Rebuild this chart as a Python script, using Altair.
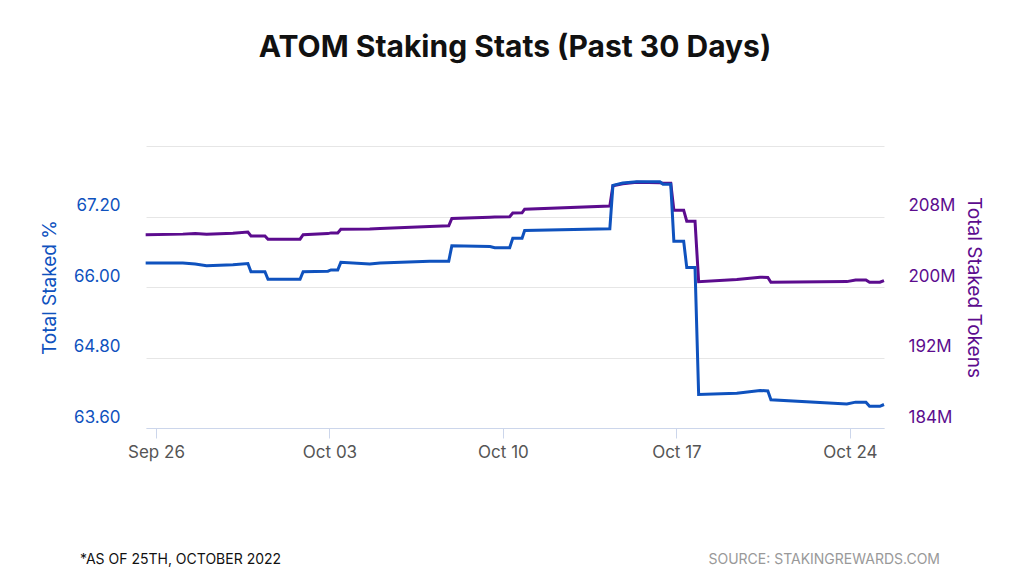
import altair as alt
import pandas as pd

# readings taken off the staking dashboard, local time stamps
times = [
    "2022-09-25T14:00", "2022-09-27T02:00", "2022-09-27T14:00", "2022-09-28T01:00",
    "2022-09-29T02:30", "2022-09-29T17:00", "2022-09-29T20:00", "2022-09-30T09:30",
    "2022-09-30T12:30", "2022-10-01T19:30", "2022-10-01T22:30", "2022-10-02T22:30",
    "2022-10-03T01:30", "2022-10-03T08:00", "2022-10-03T11:00", "2022-10-04T15:00",
    "2022-10-05T01:00", "2022-10-07T01:00", "2022-10-07T19:30", "2022-10-07T22:30",
    "2022-10-09T11:30", "2022-10-09T16:00", "2022-10-10T06:30", "2022-10-10T09:30",
    "2022-10-10T18:30", "2022-10-10T21:00", "2022-10-14T07:30", "2022-10-14T10:30",
    "2022-10-14T20:00", "2022-10-15T09:30", "2022-10-16T08:00", "2022-10-16T11:00",
    "2022-10-16T18:30", "2022-10-16T21:30", "2022-10-17T07:00", "2022-10-17T10:00",
    "2022-10-17T18:00", "2022-10-17T21:30", "2022-10-19T10:30", "2022-10-20T09:00",
    "2022-10-20T16:30", "2022-10-20T19:30", "2022-10-23T21:00", "2022-10-24T05:30",
    "2022-10-24T15:30", "2022-10-24T19:00", "2022-10-25T05:00", "2022-10-25T09:00",
]
staked_pct = [
    66.41, 66.41, 66.39, 66.36, 66.38, 66.40, 66.26, 66.26,
    66.13, 66.13, 66.26, 66.27, 66.29, 66.29, 66.42, 66.39,
    66.41, 66.44, 66.44, 66.70, 66.69, 66.67, 66.67, 66.83,
    66.83, 66.96, 66.99, 67.73, 67.77, 67.79, 67.79, 67.75,
    67.75, 66.78, 66.78, 66.33, 66.33, 64.17, 64.19, 64.24,
    64.23, 64.08, 64.01, 64.04, 64.04, 63.97, 63.97, 64.00,
]
staked_tokens_m = [
    205.94, 206.00, 206.06, 206.00, 206.11, 206.23, 205.79, 205.79,
    205.41, 205.43, 205.94, 206.06, 206.14, 206.14, 206.55, 206.57,
    206.63, 206.86, 206.94, 207.77, 207.91, 207.93, 207.97, 208.40,
    208.42, 208.83, 209.20, 211.49, 211.71, 211.89, 211.83, 211.77,
    211.77, 208.72, 208.72, 207.46, 207.46, 200.61, 200.86, 201.11,
    201.09, 200.54, 200.61, 200.80, 200.80, 200.54, 200.54, 200.72,
]

pct_ticks = [63.6, 64.8, 66.0, 67.2, 68.4]
token_ticks = [184, 192, 200, 208, 216]
date_ticks = [(9, 26), (10, 3), (10, 10), (10, 17), (10, 24)]

BLUE = "#0f52be"
PURPLE = "#5c0c8e"
FONT = "Inter"

df = pd.DataFrame({"time": times, "pct": staked_pct, "tokens": staked_tokens_m})

x_enc = alt.X(
    "time:T",
    title=None,
    scale=alt.Scale(domain=[alt.DateTime(year=2022, month=9, date=25, hours=14, minutes=20),
                            alt.DateTime(year=2022, month=10, date=25, hours=9)]),
    axis=alt.Axis(
        values=[alt.DateTime(year=2022, month=m, date=d) for m, d in date_ticks],
        format="%b %d", grid=False, domainColor="#ccd6eb", tickColor="#ccd6eb",
        tickSize=10, labelColor="#555555", labelFontSize=17, labelPadding=6,
        labelFont=FONT,
    ),
)

tokens = alt.Chart(df).mark_line(color=PURPLE, strokeWidth=3).encode(
    x=x_enc,
    y=alt.Y(
        "tokens:Q",
        title="Total Staked Tokens",
        scale=alt.Scale(domain=[184, 216], nice=False, zero=False),
        axis=alt.Axis(
            orient="right", values=token_ticks, grid=False, ticks=False, domain=False,
            labelExpr="datum.value > 212 ? '' : format(datum.value, 'd') + 'M'",
            labelColor=PURPLE, labelFontSize=17, labelPadding=24, labelOffset=-11,
            titleColor=PURPLE, titleFontSize=19, titleFontWeight="normal", titlePadding=8,
            labelFont=FONT, titleFont=FONT,
        ),
    ),
)

pct = alt.Chart(df).mark_line(color=BLUE, strokeWidth=3).encode(
    x=x_enc,
    y=alt.Y(
        "pct:Q",
        title="Total Staked %",
        scale=alt.Scale(domain=[63.6, 68.4], nice=False, zero=False),
        axis=alt.Axis(
            orient="left", values=pct_ticks, grid=True, gridColor="#e6e6e6",
            ticks=False, domain=False,
            labelExpr="datum.value > 68 ? '' : format(datum.value, '.2f')",
            labelColor=BLUE, labelFontSize=17, labelPadding=26, labelOffset=-11,
            titleColor=BLUE, titleFontSize=19, titleFontWeight="normal", titlePadding=14,
            labelFont=FONT, titleFont=FONT,
        ),
    ),
)

notes = pd.DataFrame({"t": ["*AS OF 25TH, OCTOBER 2022"]})
source = pd.DataFrame({"t": ["SOURCE: STAKINGREWARDS.COM"]})
note_l = alt.Chart(notes).mark_text(
    align="left", baseline="middle", fontSize=14, font=FONT, color="#111111"
).encode(x=alt.value(-66), y=alt.value(414), text="t:N")
note_r = alt.Chart(source).mark_text(
    align="right", baseline="middle", fontSize=14, font=FONT, color="#999999"
).encode(x=alt.value(794), y=alt.value(414), text="t:N")

chart = (
    alt.layer(tokens, pct, note_l, note_r)
    .resolve_scale(y="independent")
    .properties(
        width=738,
        height=282,
        autosize=alt.AutoSizeParams(type="none"),
        padding={"left": 138, "top": 138, "right": 128, "bottom": 145},
        title=alt.Title(
            "ATOM Staking Stats (Past 30 Days)", font=FONT, fontSize=30,
            fontWeight=700, color="#111111", anchor="middle", offset=83,
        ),
    )
    .configure_view(stroke=None)
)

chart.save("out.html", embed_options={"renderer": "svg", "actions": False})
